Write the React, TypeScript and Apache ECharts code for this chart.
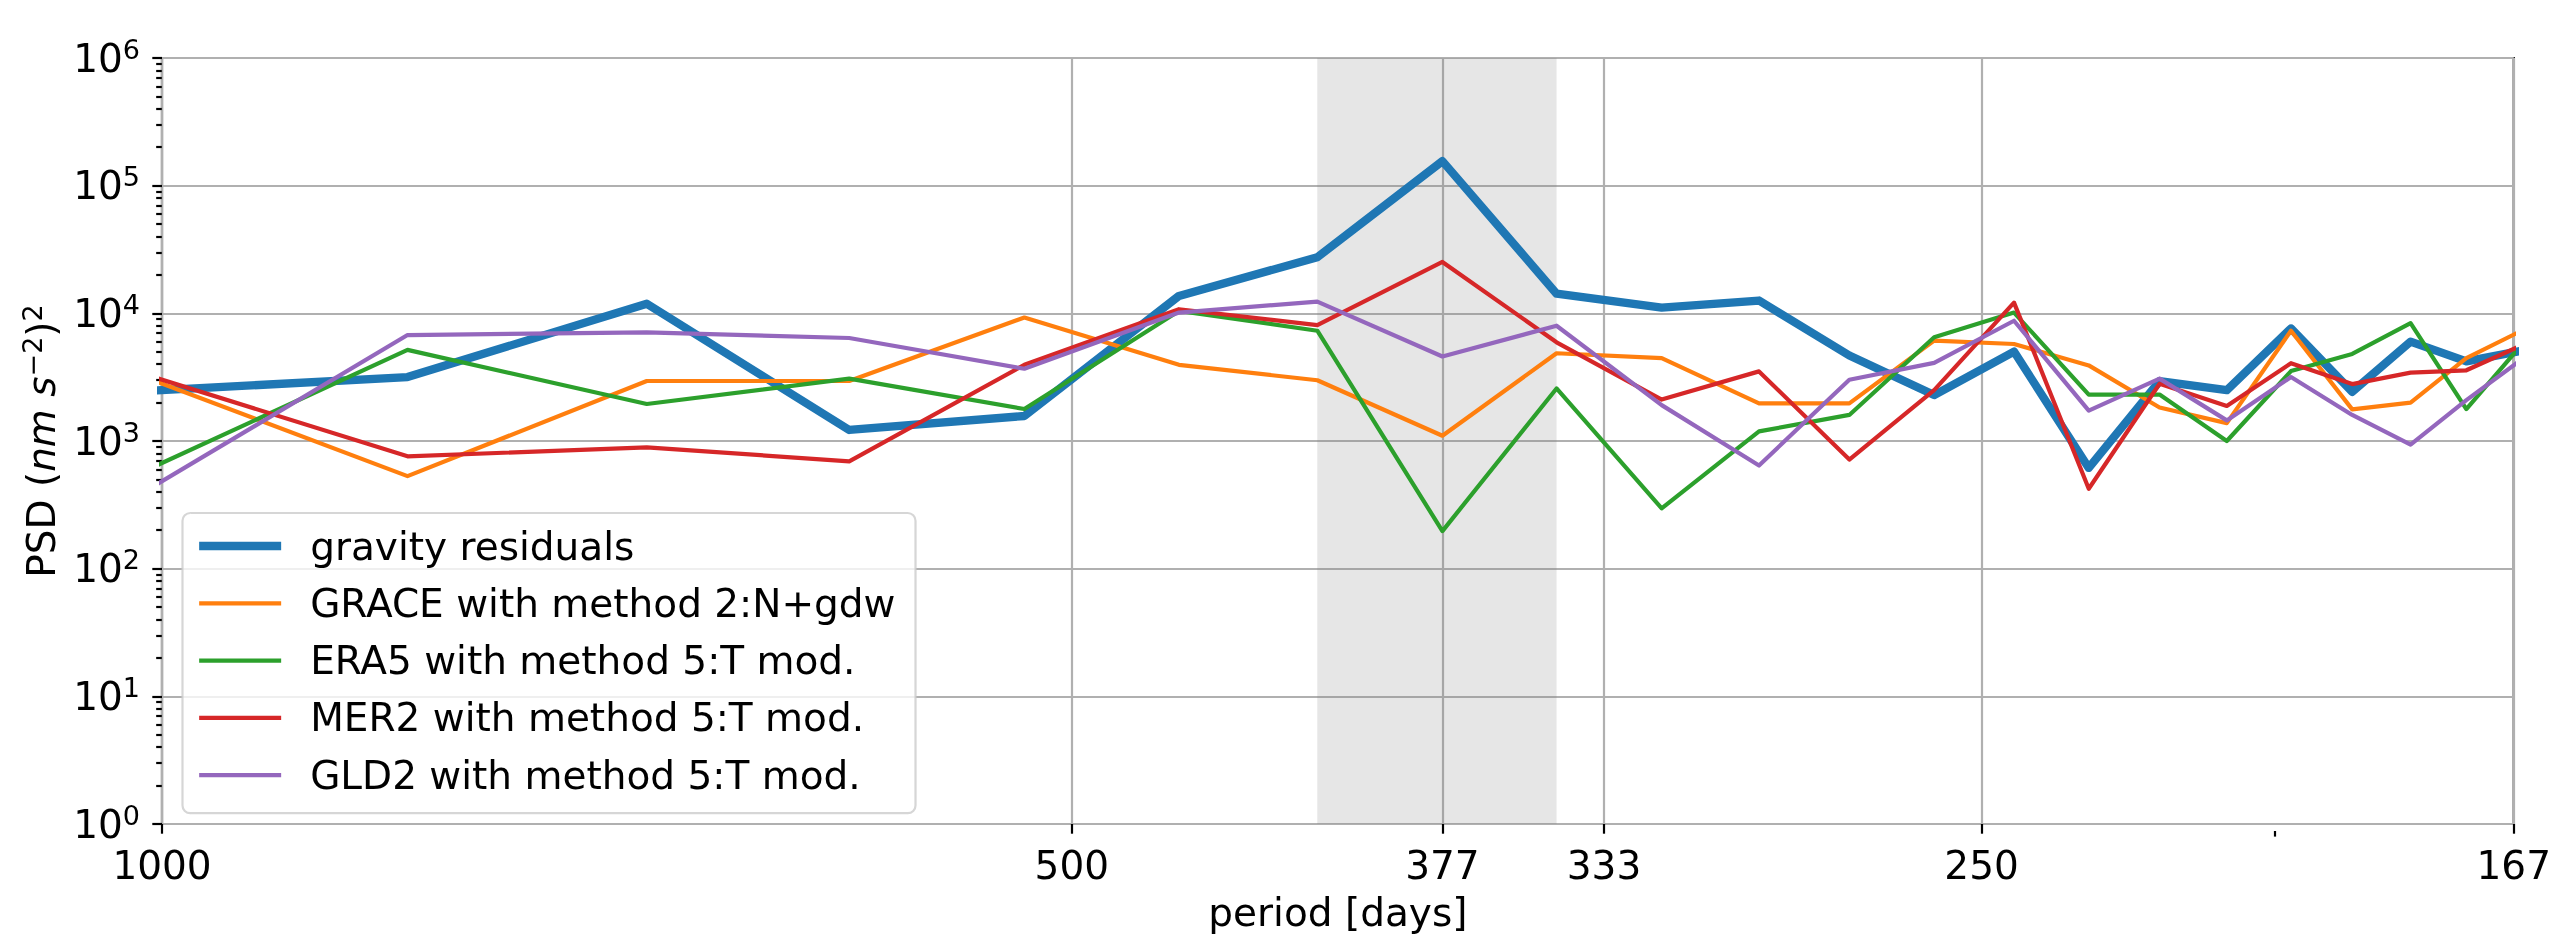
import React, { useEffect, useRef } from "react";
import * as echarts from "echarts";

// ---- data (periods in days of the spectral bins) ----
const PERIODS = [1036.8, 829.4, 691.2, 592.4, 518.4, 460.8, 414.7, 377.0, 345.6, 319.0, 296.2, 276.5, 259.2, 243.9, 230.4, 218.3, 207.4, 197.5, 188.5, 180.3, 172.8, 165.9];

const GRAVITY_RESIDUALS = [2390, 3170, 11900, 1220, 1570, 13700, 27500, 155600, 14250, 11100, 12600, 4680, 2290, 5020, 615, 2950, 2500, 7620, 2430, 6010, 4200, 5070];
const GRACE_M2 = [3890, 531, 2950, 2950, 9270, 3950, 2990, 1100, 4870, 4460, 1970, 1970, 6110, 5750, 3910, 1830, 1380, 7310, 1770, 2000, 4460, 7190];
const ERA5_M5 = [453, 5170, 1950, 3080, 1780, 10440, 7310, 197, 2580, 297, 1190, 1600, 6490, 10140, 2310, 2310, 1000, 3530, 4810, 8380, 1780, 5460];
const MER2_M5 = [3950, 759, 891, 693, 3950, 10770, 8080, 25250, 5930, 2110, 3510, 715, 2500, 12130, 423, 2810, 1880, 4070, 2790, 3430, 3580, 5530];
const GLD2_M5 = [291, 6760, 7090, 6410, 3680, 10140, 12350, 4590, 8000, 1910, 643, 3020, 4090, 8750, 1730, 3080, 1450, 3170, 1600, 935, 2090, 4240];

const SERIES_NAMES = [
  "gravity residuals",
  "GRACE with method 2:N+gdw",
  "ERA5 with method 5:T mod.",
  "MER2 with method 5:T mod.",
  "GLD2 with method 5:T mod.",
];
const SERIES_VALUES = [GRAVITY_RESIDUALS, GRACE_M2, ERA5_M5, MER2_M5, GLD2_M5];

const BAND = [414.7, 345.6];

const X_MIN = 1000 / 6;
const X_MAX = 1000;
const X_MAJOR_TICKS = [1000, 500, 377, 1000 / 3, 250, 1000 / 6];
const X_MINOR_TICKS = [200];
const Y_MIN = 1;
const Y_MAX = 1e6;
const Y_MAJOR_TICKS = [1, 10, 100, 1000, 10000, 100000, 1000000];
const Y_MINOR_MANTISSAS = [2, 3, 4, 5, 6, 7, 8, 9];
const Y_MINOR_DECADES = [1, 10, 100, 1000, 10000, 100000];
const Y_MINOR_TICKS = Y_MINOR_DECADES.flatMap((d) => Y_MINOR_MANTISSAS.map((m) => m * d));

// ---- styles ----
const COLORS = ["#1f77b4", "#ff7f0e", "#2ca02c", "#d62728", "#9467bd"];
const WIDTHS = [8.3, 4.2, 4.2, 4.2, 4.2];
const FONT = "DejaVu Sans";
const FS = 39;
const GRID = { left: 162, right: 40, top: 58, bottom: 106 };
const PLOT_W = 2554 - GRID.left - GRID.right;
const PLOT_H = 937 - GRID.top - GRID.bottom;
const AX_LINE = { color: "#000", width: 2.2 };

export default function App() {
  const ref = useRef<HTMLDivElement>(null);

  useEffect(() => {
    if (!ref.current) return;
    const chart = echarts.init(ref.current, undefined, { renderer: "svg" });

    const lineSeries = SERIES_NAMES.map((name, si) => ({
      type: "line",
      name,
      data: PERIODS.map((p, i) => [p, SERIES_VALUES[si][i]]),
      symbol: "none",
      showSymbol: false,
      silent: true,
      clip: true,
      z: 2,
      itemStyle: { color: COLORS[si] },
      lineStyle: { color: COLORS[si], width: WIDTHS[si], join: "round" },
    }));

    const option: any = {
      animation: false,
      textStyle: { fontFamily: FONT },
      grid: {
        ...GRID,
        show: true,
        borderColor: "#000",
        borderWidth: 2.2,
        backgroundColor: "transparent",
      },
      xAxis: [
        {
          type: "log",
          logBase: 10,
          min: X_MIN,
          max: X_MAX,
          inverse: true,
          position: "bottom",
          name: "period [days]",
          nameLocation: "middle",
          nameGap: 69,
          nameTextStyle: { fontSize: FS, color: "#000", fontFamily: FONT },
          axisLine: { show: false },
          axisTick: {
            show: true,
            customValues: X_MAJOR_TICKS,
            length: 9.7,
            lineStyle: AX_LINE,
          },
          axisLabel: {
            customValues: X_MAJOR_TICKS,
            formatter: (v: number) => String(Math.round(v)),
            fontSize: FS,
            color: "#000",
            fontFamily: FONT,
            margin: 22,
          },
          splitLine: { show: true, lineStyle: { color: "#b0b0b0", width: 2.2 } },
        },
        {
          type: "log",
          logBase: 10,
          min: X_MIN,
          max: X_MAX,
          inverse: true,
          position: "top",
          offset: -PLOT_H,
          axisLine: { show: false },
          axisLabel: { show: false },
          axisTick: {
            show: true,
            customValues: X_MINOR_TICKS,
            inside: true,
            length: 5.6,
            lineStyle: AX_LINE,
          },
          splitLine: { show: false },
        },
      ],
      yAxis: [
        {
          type: "log",
          logBase: 10,
          min: Y_MIN,
          max: Y_MAX,
          name: "{n|PSD (}{i|nm s}{p|\u22122}{n|)}{p|2}",
          nameLocation: "middle",
          nameRotate: 90,
          nameGap: 98,
          nameTextStyle: {
            color: "#000",
            rich: {
              n: { fontSize: FS, lineHeight: 45, fontFamily: FONT, color: "#000" },
              i: { fontSize: FS, lineHeight: 45, fontFamily: FONT, fontStyle: "italic", color: "#000" },
              p: { fontSize: 27, lineHeight: 27, verticalAlign: "top", fontFamily: FONT, color: "#000" },
            },
          },
          axisLine: { show: false },
          axisTick: {
            show: true,
            customValues: Y_MAJOR_TICKS,
            length: 9.7,
            lineStyle: AX_LINE,
          },
          axisLabel: {
            customValues: Y_MAJOR_TICKS,
            formatter: (v: number) => `{b|10}{s|${Math.round(Math.log10(v))}}`,
            margin: 22,
            rich: {
              b: { fontSize: FS, lineHeight: 45, fontFamily: FONT, color: "#000" },
              s: { fontSize: 27, lineHeight: 27, verticalAlign: "top", fontFamily: FONT, color: "#000" },
            },
          },
          splitLine: { show: true, lineStyle: { color: "#b0b0b0", width: 2.2 } },
        },
        {
          type: "log",
          logBase: 10,
          min: Y_MIN,
          max: Y_MAX,
          position: "right",
          offset: -PLOT_W,
          axisLine: { show: false },
          axisLabel: { show: false },
          axisTick: {
            show: true,
            customValues: Y_MINOR_TICKS,
            inside: true,
            length: 5.6,
            lineStyle: AX_LINE,
          },
          splitLine: { show: false },
        },
      ],
      legend: {
        data: SERIES_NAMES.map((name, i) => ({
          name,
          lineStyle: { width: WIDTHS[i], color: COLORS[i] },
        })),
        orient: "vertical",
        align: "left",
        left: 182.5,
        top: 513,
        itemWidth: 82,
        itemHeight: 2,
        itemGap: 17.3,
        padding: [13, 20, 18, 12.5],
        backgroundColor: "rgba(255,255,255,0.8)",
        borderColor: "rgba(204,204,204,0.8)",
        borderWidth: 2.2,
        borderRadius: 7.8,
        selectedMode: false,
        lineStyle: { width: "inherit" },
        textStyle: {
          fontSize: FS,
          lineHeight: 40,
          color: "#000",
          fontFamily: FONT,
          padding: [0, 0, 0, 24],
        },
      },
      series: [
        {
          type: "line",
          data: [],
          z: 1,
          silent: true,
          markArea: {
            silent: true,
            itemStyle: { color: "rgba(128,128,128,0.2)" },
            data: [[{ xAxis: BAND[0] }, { xAxis: BAND[1] }]],
          },
        },
        ...lineSeries,
      ],
    };

    chart.setOption(option);
    return () => chart.dispose();
  }, []);

  return (
    <div
      ref={ref}
      style={{ position: "fixed", left: 0, top: 0, width: 2554, height: 937 }}
    />
  );
}
